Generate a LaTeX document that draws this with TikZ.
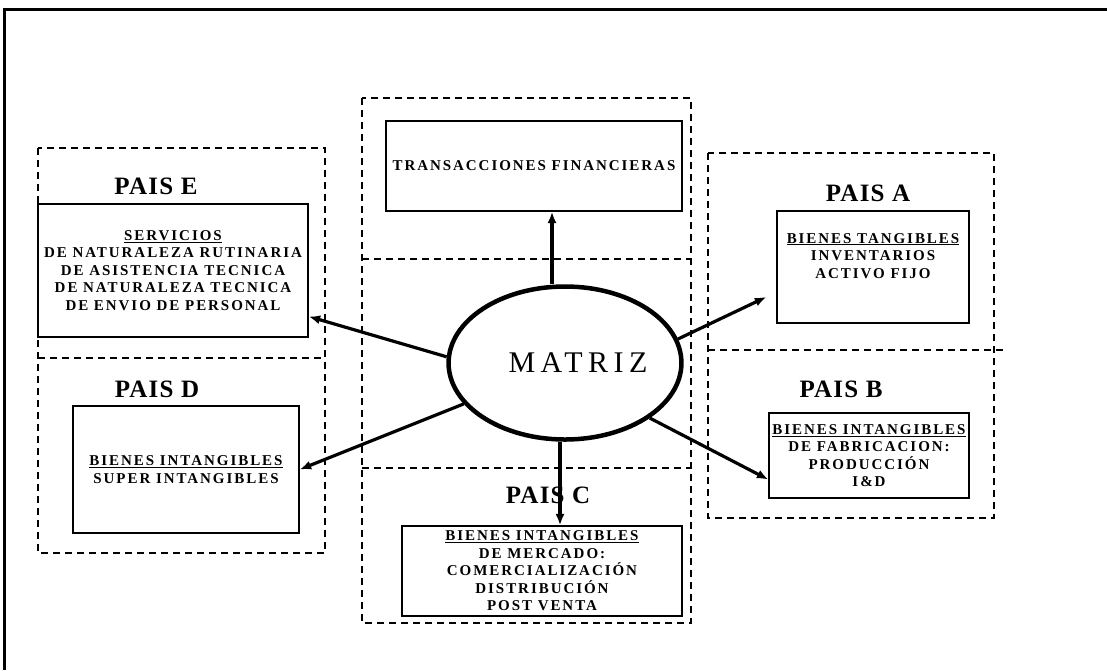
\documentclass[tikz,border=0pt]{standalone}
\usepackage{fontspec}
\setmainfont{Liberation Serif}
\newfontfamily\boxfont[LetterSpace=13]{Liberation Serif}
\newfontfamily\paisfont[LetterSpace=5]{Liberation Serif}
\newfontfamily\matfont[LetterSpace=18]{Liberation Serif}
\usetikzlibrary{arrows.meta,shapes.geometric}

\begin{document}
\begin{tikzpicture}[x=1pt,y=-1pt,
  zone/.style={draw=black,line width=1.5pt,dash pattern=on 7pt off 5pt},
  box/.style={rectangle,draw=black,line width=1.5pt,align=center,inner xsep=0pt,inner ysep=2pt,
    font=\boxfont\bfseries\fontsize{15}{17.5}\selectfont},
  pais/.style={inner sep=0pt,font=\paisfont\bfseries\fontsize{25}{30}\selectfont},
  arr/.style={-{Latex[length=4mm,width=3.2mm]},line width=3.2pt}
]
\useasboundingbox (0,0) rectangle (1107,670);
% marco exterior
\draw[line width=3pt] (4,670) -- (4,9) -- (1107,9);

% zonas punteadas
\draw[zone] (362,98) rectangle (691,623);
\draw[zone] (362,259) -- (691,259);
\draw[zone] (362,468) -- (691,468);
\draw[zone] (38,148) rectangle (325,553);
\draw[zone] (38,358) -- (325,358);
\draw[zone] (708,153) rectangle (994,518);
\draw[zone] (708,350) -- (1005,350);

% cajas
\node[box,minimum width=296pt,minimum height=90pt] (fin) at (534,166) {TRANSACCIONES FINANCIERAS};
\node[box,minimum width=270pt,minimum height=133pt] (pe) at (173,270.5)
  {\underline{SERVICIOS}\\DE NATURALEZA RUTINARIA\\DE ASISTENCIA TECNICA\\DE NATURALEZA TECNICA\\DE ENVIO DE PERSONAL};
\node[box,minimum width=226pt,minimum height=127pt] (pd) at (186,469.5)
  {\underline{BIENES INTANGIBLES}\\SUPER INTANGIBLES};
\node[box,minimum width=192pt,minimum height=112pt] (pa) at (873,267)
  {\underline{BIENES TANGIBLES}\\INVENTARIOS\\ACTIVO FIJO\\ \strut};
\node[box,minimum width=200pt,minimum height=85pt] (pb) at (869,455.5)
  {\underline{BIENES INTANGIBLES}\\DE FABRICACION:\\PRODUCCIÓN\\I\&D};
\node[box,minimum width=280pt,minimum height=90pt] (pc) at (542,571)
  {\underline{BIENES INTANGIBLES}\\DE MERCADO:\\COMERCIALIZACIÓN\\DISTRIBUCIÓN\\POST VENTA};

% titulos
\node[pais] (tite) at (156,186) {PAIS E};
\node[pais] (titd) at (157,389) {PAIS D};
\node[pais] (tita) at (868,193) {PAIS A};
\node[pais] (titb) at (841,389) {PAIS B};
\node[pais] (titc) at (548,495) {PAIS C};

% matriz
\node[ellipse,draw=black,line width=4.5pt,minimum width=232pt,minimum height=153pt,inner sep=0pt,
  font=\matfont\fontsize{30}{36}\selectfont] (matriz) at (565,363) {\hspace{26pt}MATRIZ};

% flechas
\draw[arr] ([xshift=-13pt]matriz.north) -- ([xshift=18pt]fin.south);
\draw[arr] ([xshift=-5pt]matriz.south) -- ([xshift=18pt]pc.north);
\draw[arr] (matriz.177) -- ([yshift=-46pt]pe.east);
\draw[arr] (matriz.202) -- (pd.east);
\draw[arr] (matriz.12) -- ([xshift=-10pt,yshift=-30pt]pa.west);
\draw[arr] (matriz.327) -- ([yshift=-24pt]pb.west);
\end{tikzpicture}
\end{document}
